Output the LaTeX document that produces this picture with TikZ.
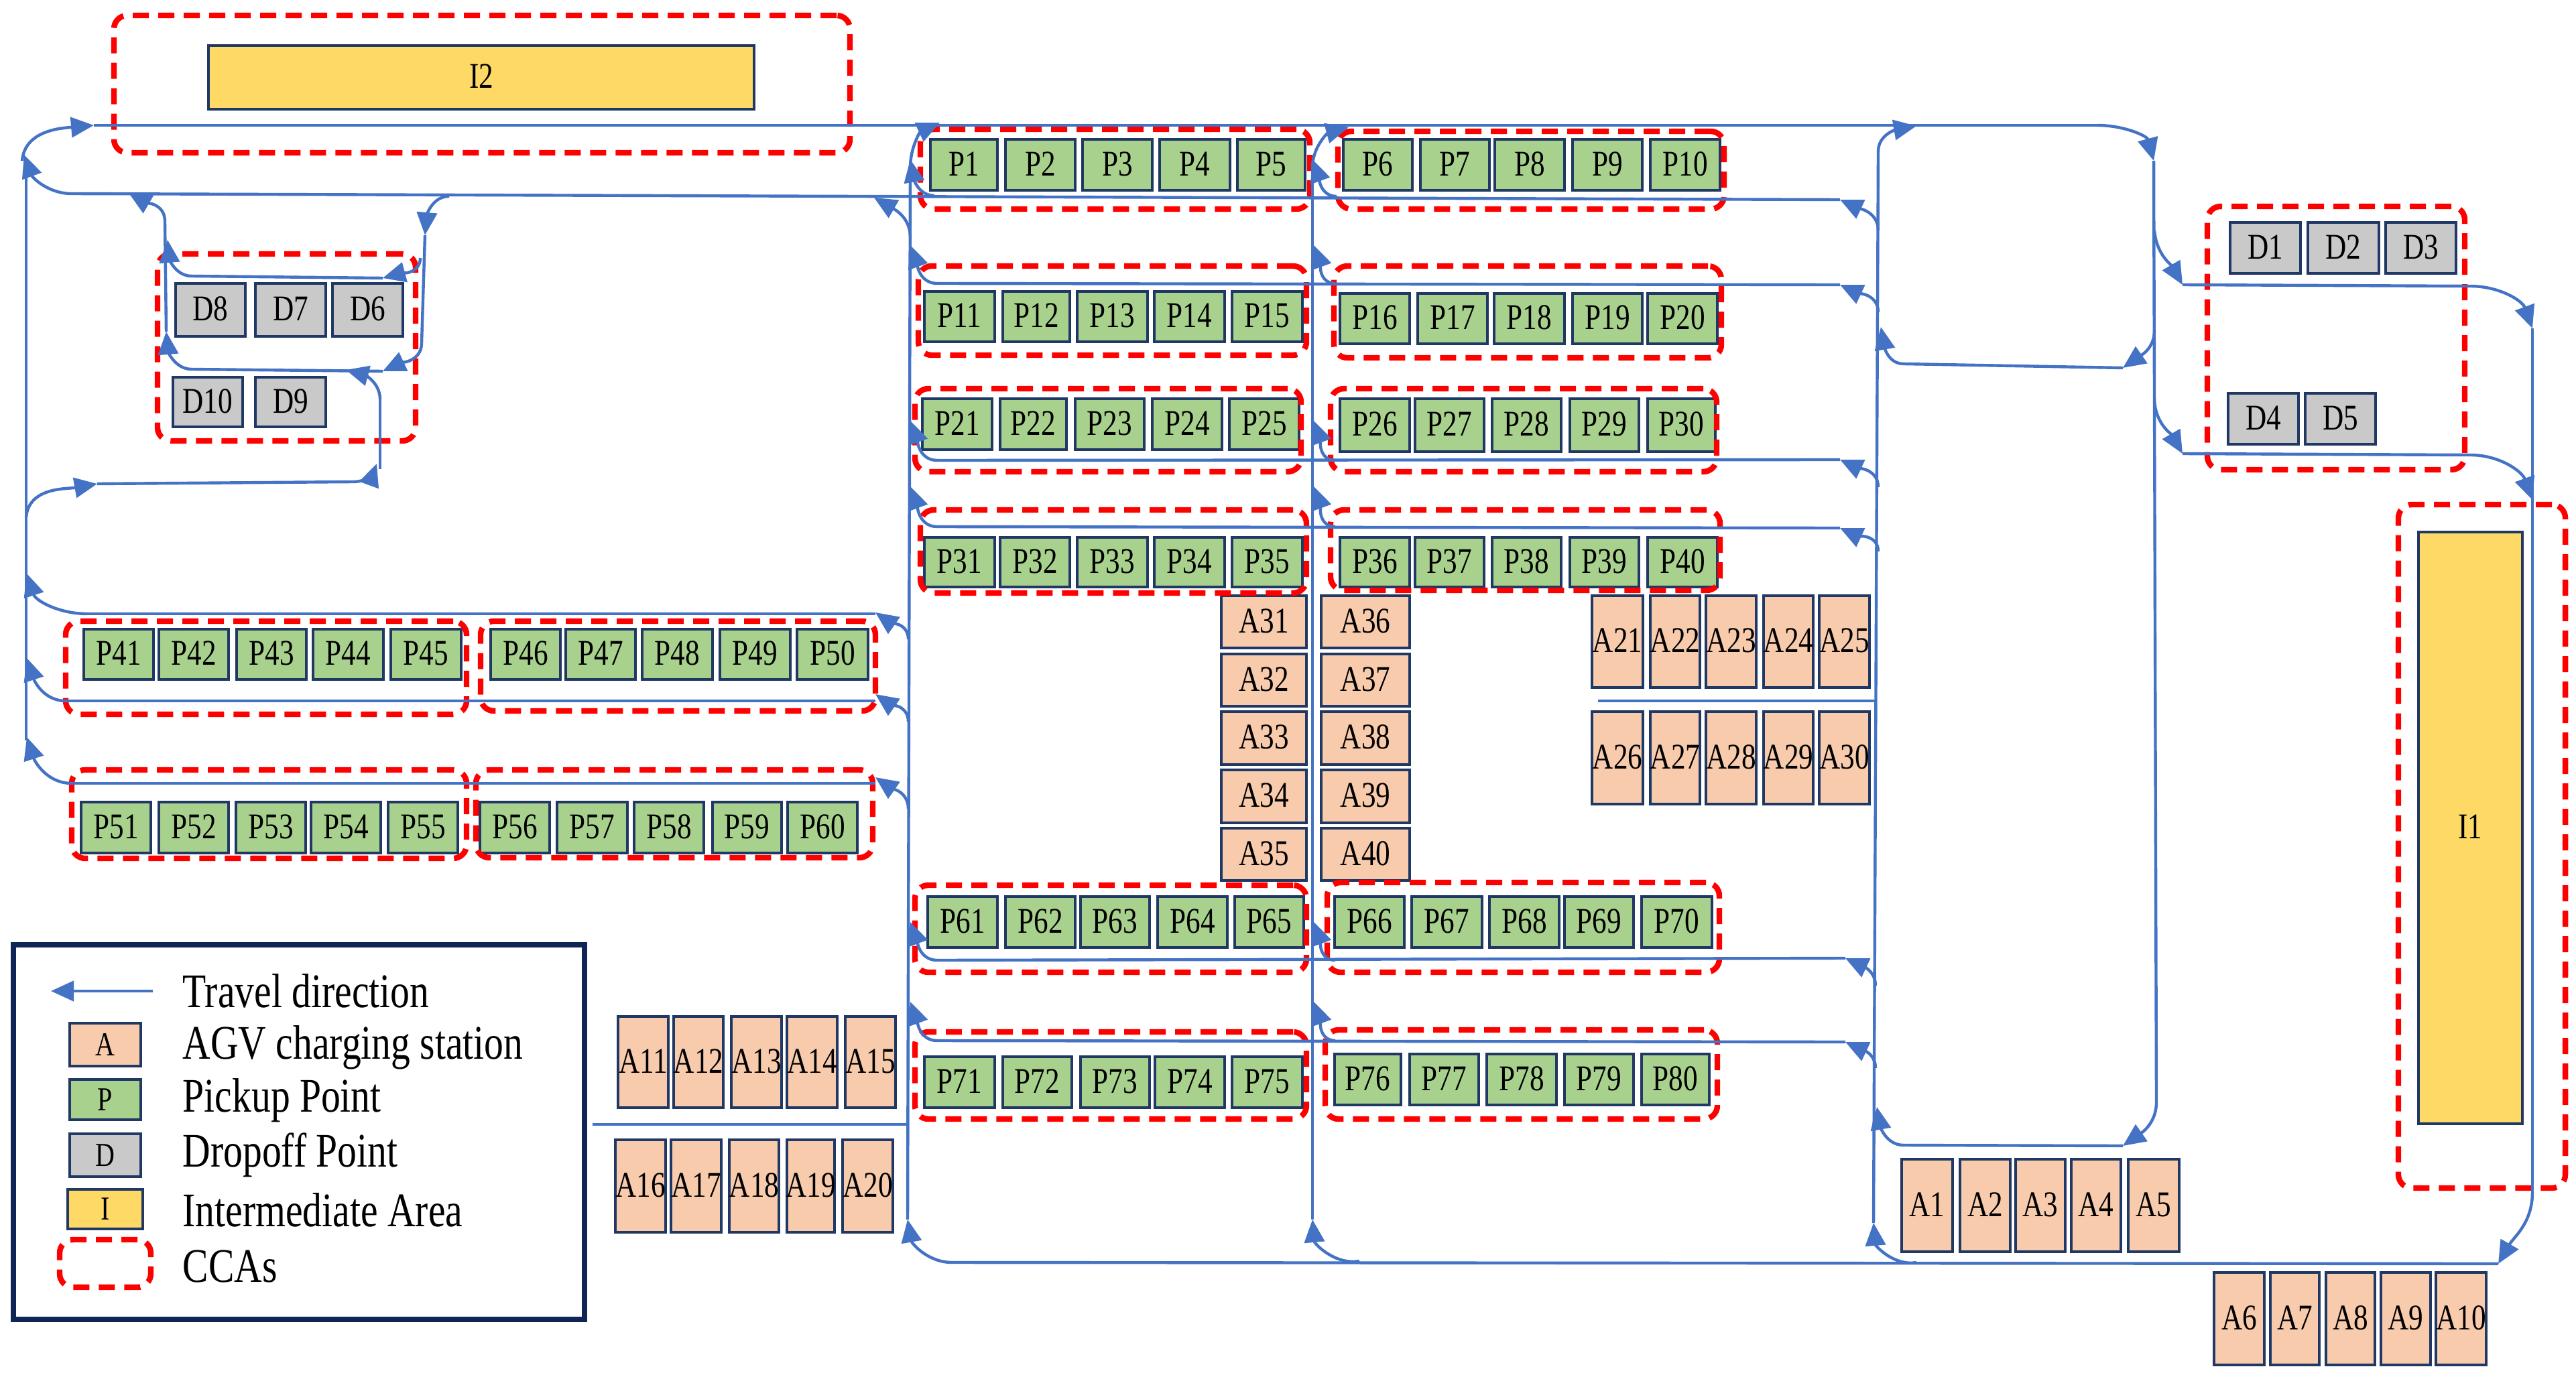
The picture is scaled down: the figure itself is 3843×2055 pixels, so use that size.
\documentclass[tikz,border=0pt]{standalone}
\usepackage{fontspec}
\setmainfont[FakeStretch=0.8]{Liberation Serif}
\usetikzlibrary{arrows.meta}
\definecolor{roadblue}{HTML}{4472C4}
\definecolor{edgeblue}{HTML}{203864}
\definecolor{framenavy}{HTML}{0F2557}
\definecolor{pgreen}{HTML}{A9D18E}
\definecolor{aorange}{HTML}{F8CBAD}
\definecolor{dgray}{HTML}{C9C9C9}
\definecolor{iyellow}{HTML}{FFD966}
\tikzset{
  cell/.style={draw=edgeblue,line width=1pt,inner sep=0pt,outer sep=0pt,font=\fontsize{13.5}{15}\selectfont,text=black},
  pbox/.style={cell,fill=pgreen},
  abox/.style={cell,fill=aorange},
  dbox/.style={cell,fill=dgray},
  ibox/.style={cell,fill=iyellow},
  cca/.style={draw=red,line width=2.1pt,dash pattern=on 6pt off 3.5pt,rounded corners=5pt,inner sep=0pt,outer sep=0pt},
  road/.style={draw=roadblue,line width=1.1pt},
  arr/.style={road,-{Triangle[length=8.5pt,width=7.5pt]}},
  lgtext/.style={anchor=west,inner sep=0pt,font=\fontsize{18}{20}\selectfont,text=black}
}
\newcommand{\boxrow}[4]{\foreach \nm/\xa/\xb in {#4}{%
  \node[#1,minimum width={(\xb-\xa)*0.25pt},minimum height={(#3-#2)*0.25pt}] (\nm) at ({(\xa+\xb)/2},{(#2+#3)/2}) {\makebox[0pt]{\raisebox{0.8pt}{\nm}}};}}
\newcommand{\ccabox}[5]{\node[cca,minimum width={(#3-#2)*0.25pt},minimum height={(#5-#4)*0.25pt}] (#1) at ({(#2+#3)/2},{(#4+#5)/2}) {};}
\newcommand{\lgbox}[7]{\node[#1,font=\fontsize{12.5}{14}\selectfont,minimum width={(#5-#4)*0.25pt},minimum height={(#7-#6)*0.25pt}] (#2) at ({(#4+#5)/2},{(#6+#7)/2}) {#3};}
\newcommand{\junc}[3]{\coordinate (#1) at (#2,#3);}
\begin{document}
\begin{tikzpicture}[x=0.25pt,y=-0.25pt]
\useasboundingbox (0,0) rectangle (3843,2055);
\fill[white] (0,0) rectangle (3843,2055);

% ---------- intermediate areas
\boxrow{ibox}{68}{163}{I2/311/1125}
\boxrow{ibox}{794}{1677}{I1/3608/3763}

% ---------- pickup points
\boxrow{pbox}{208}{284}{P1/1388/1488,P2/1500/1604,P3/1615/1719,P4/1730/1835,P5/1846/1947,P6/2004/2107,P7/2119/2222,P8/2230/2334,P9/2346/2450,P10/2462/2566}
\boxrow{pbox}{435}{510}{P11/1379/1484,P12/1496/1596,P13/1607/1712,P14/1722/1827,P15/1838/1943}
\boxrow{pbox}{438}{513}{P16/1999/2103,P17/2115/2219,P18/2229/2334,P19/2346/2450,P20/2458/2562}
\boxrow{pbox}{595}{671}{P21/1376/1480,P22/1492/1591,P23/1604/1707,P24/1719/1823,P25/1834/1938}
\boxrow{pbox}{595}{674}{P26/1999/2103,P27/2111/2214,P28/2226/2329,P29/2342/2445,P30/2458/2559}
\boxrow{pbox}{802}{876}{P31/1379/1484,P32/1492/1596,P33/1607/1712,P34/1722/1827,P35/1838/1943,P36/1999/2103,P37/2111/2214,P38/2226/2329,P39/2342/2445,P40/2458/2562}
\boxrow{pbox}{939}{1014}{P41/125/229,P42/237/341,P43/353/457,P44/467/572,P45/583/688,P46/732/836,P47/844/948,P48/958/1063,P49/1074/1179,P50/1189/1295}
\boxrow{pbox}{1197}{1273}{P51/121/225,P52/237/341,P53/352/456,P54/464/568,P55/579/683,P56/716/820,P57/831/936,P58/946/1050,P59/1063/1166,P60/1175/1279}
\boxrow{pbox}{1338}{1414}{P61/1384/1488,P62/1500/1604,P63/1612/1715,P64/1727/1831,P65/1842/1945,P66/1991/2095,P67/2106/2211,P68/2222/2326,P69/2334/2437,P70/2449/2554}
\boxrow{pbox}{1577}{1653}{P71/1379/1484,P72/1496/1599,P73/1612/1715,P74/1723/1827,P75/1838/1943}
\boxrow{pbox}{1573}{1649}{P76/1991/2090,P77/2103/2206,P78/2218/2322,P79/2334/2437,P80/2449/2550}

% ---------- dropoff points
\boxrow{dbox}{332}{408}{D1/3327/3432,D2/3443/3549,D3/3559/3664}
\boxrow{dbox}{587}{663}{D4/3324/3429,D5/3439/3544}
\boxrow{dbox}{423}{502}{D8/262/366,D7/381/486,D6/496/601}
\boxrow{dbox}{563}{637}{D10/258/362,D9/381/486}

% ---------- AGV charging stations
\boxrow{abox}{1730}{1868}{A1/2837/2913,A2/2924/2999,A3/3007/3081,A4/3090/3164,A5/3175/3251}
\boxrow{abox}{1899}{2037}{A6/3303/3378,A7/3387/3460,A8/3470/3543,A9/3552/3626,A10/3634/3709}
\boxrow{abox}{1517}{1653}{A11/922/997,A12/1005/1079,A13/1091/1166,A14/1174/1249,A15/1261/1336}
\boxrow{abox}{1701}{1839}{A16/918/993,A17/1001/1076,A18/1088/1162,A19/1174/1245,A20/1257/1332}
\boxrow{abox}{889}{1026}{A21/2375/2451,A22/2462/2536,A23/2545/2620,A24/2631/2705,A25/2714/2789}
\boxrow{abox}{1062}{1200}{A26/2375/2451,A27/2462/2536,A28/2545/2620,A29/2631/2705,A30/2714/2789}
\boxrow{abox}{889}{967}{A31/1822/1949,A36/1971/2103}
\boxrow{abox}{976}{1054}{A32/1822/1949,A37/1971/2103}
\boxrow{abox}{1062}{1141}{A33/1822/1949,A38/1971/2103}
\boxrow{abox}{1149}{1228}{A34/1822/1949,A39/1971/2103}
\boxrow{abox}{1236}{1314}{A35/1822/1949,A40/1971/2103}

% ---------- CCAs
\ccabox{ccaItwo}{170}{1268}{23}{228}
\ccabox{ccaItwoOne}{3578}{3827}{753}{1773}
\ccabox{ccaDa}{3293}{3677}{308}{701}
\ccabox{ccaDb}{235}{620}{379}{658}
\ccabox{ccaa}{1373}{1954}{193}{312}
\ccabox{ccab}{1996}{2572}{196}{312}
\ccabox{ccac}{1370}{1949}{397}{530}
\ccabox{ccad}{1990}{2568}{397}{534}
\ccabox{ccae}{1365}{1941}{580}{704}
\ccabox{ccaf}{1985}{2561}{580}{704}
\ccabox{ccag}{1373}{1949}{761}{885}
\ccabox{ccah}{1985}{2566}{761}{881}
\ccabox{ccai}{98}{696}{927}{1066}
\ccabox{ccaj}{717}{1306}{927}{1061}
\ccabox{ccak}{107}{696}{1149}{1281}
\ccabox{ccal}{710}{1302}{1149}{1280}
\ccabox{ccam}{1365}{1949}{1321}{1451}
\ccabox{ccan}{1980}{2565}{1317}{1451}
\ccabox{ccao}{1365}{1949}{1540}{1670}
\ccabox{ccap}{1977}{2562}{1537}{1670}

% ---------- row lines between the two main verticals and the right vertical
\foreach \kk/\lyy/\txx/\tyy/\sxx/\syy/\ayy in {r2/423/2745/425/2802/466/366,r3/687/2745/686/2802/727/628,r4/786/2745/788/2802/823/726,r6/1433/2753/1430/2798/1471/1376,r7/1553/2753/1555/2798/1594/1495}{
  \junc{\kk-s}{\sxx}{\syy}
  \junc{\kk-t}{\txx}{\tyy}
  \junc{\kk-a}{1398}{\lyy}
  \junc{\kk-b}{1992}{\lyy}
  \junc{\kk-A}{1358}{\ayy}
  \junc{\kk-B}{1960}{\ayy}
  \draw[arr] (\kk-s) to[out=90,in=-25] (\kk-t);
  \draw[road] (\kk-t) -- (\kk-a);
  \draw[arr] (\kk-a) to[out=180,in=-70] (\kk-A);
  \draw[arr] (\kk-b) to[out=180,in=-70] (\kk-B);
}

% ---------- main verticals
\junc{Abot}{1354}{1820}\junc{Atop}{1358}{250}
\junc{Bbot}{1958}{1820}\junc{Btop}{1958}{250}
\junc{Rbot}{2795}{1825}\junc{Rtop}{2802}{226}
\junc{Lbot}{39}{1105}\junc{Ltop}{39}{238}
\draw[road] (Abot) -- (Atop);
\draw[road] (Bbot) -- (Btop);
\draw[road] (Rbot) -- (Rtop);
\draw[road] (Lbot) -- (Ltop);

% ---------- top line and loop
\junc{tlA}{33}{240}\junc{tlB}{140}{187}\junc{trA}{3129}{187}\junc{trB}{3213}{240}
\draw[arr] (tlA) to[out=85,in=185] (tlB);
\draw[road] (tlB) -- (trA);
\draw[arr] (trA) to[out=0,in=105] (trB);
\junc{Qbot}{3217}{1645}
\draw[road] (trB) -- (Qbot);
\junc{Qa}{3167}{1710}\junc{Qb}{2840}{1709}\junc{Qc}{2800}{1652}
\draw[arr] (Qbot) to[out=-90,in=35] (Qa);
\draw[road] (Qa) -- (Qb);
\draw[arr] (Qb) to[out=180,in=-80] (Qc);
\junc{Rtip}{2859}{188}
\draw[arr] (Rtop) to[out=90,in=190] (Rtip);

% ---------- middle loop on the right
\junc{Ma}{3214}{492}\junc{Mb}{3167}{549}\junc{Mc}{2840}{543}\junc{Md}{2806}{488}
\draw[arr] (Ma) to[out=-88,in=35] (Mb);
\draw[road] (Mb) -- (Mc);
\draw[arr] (Mc) to[out=180,in=-80] (Md);

% ---------- second line (row of P1--P10)
\junc{Sa}{2802}{344}\junc{Sb}{2745}{298}\junc{Sc}{107}{289}\junc{Sd}{36}{231}
\draw[arr] (Sa) to[out=90,in=-25] (Sb);
\draw[road] (Sb) -- (Sc);
\draw[arr] (Sc) to[out=180,in=-70] (Sd);
\junc{Sf}{1394}{292}\junc{Sg}{1358}{238}\junc{Sh}{1994}{293}\junc{Si}{1958}{238}
\draw[arr] (Sf) to[out=180,in=-80] (Sg);
\draw[arr] (Sh) to[out=180,in=-70] (Si);
\junc{Sj}{1358}{354}\junc{Sk}{1304}{295}
\draw[arr] (Sj) to[out=90,in=-30] (Sk);
\junc{Atip}{1402}{183}\junc{Btip}{2012}{190}
\draw[arr] (Atop) to[out=90,in=205] (Atip);
\draw[arr] (Btop) to[out=90,in=195] (Btip);

% ---------- drop-off lines on the right
\junc{Da}{3214}{344}\junc{Db}{3256}{425}\junc{Dc}{3685}{427}\junc{Dd}{3778}{490}
\draw[arr] (Da) to[out=-85,in=120] (Db);
\draw[road] (Db) -- (Dc);
\draw[arr] (Dc) to[out=0,in=110] (Dd);
\junc{Ea}{3214}{599}\junc{Eb}{3256}{677}\junc{Ec}{3685}{679}\junc{Ed}{3778}{746}
\draw[arr] (Ea) to[out=-85,in=120] (Eb);
\draw[road] (Eb) -- (Ec);
\draw[arr] (Ec) to[out=0,in=110] (Ed);
\junc{Ve}{3778}{1779}
\draw[road] (Dd) -- (Ve);

% ---------- bottom line
\junc{Ba}{3727}{1886}\junc{Bb}{1420}{1884}
\draw[arr] (Ve) to[out=-90,in=60] (Ba);
\draw[road] (Ba) -- (Bb);
\junc{Bc}{2028}{1882}\junc{Bd}{2859}{1884}
\draw[arr] (Bb) to[out=180,in=-80] (Abot);
\draw[arr] (Bc) to[out=190,in=-85] (Bbot);
\draw[arr] (Bd) to[out=190,in=-85] (Rbot);

% ---------- left rows
\foreach \kk/\lyy/\lxx/\syy/\tyy/\ayy in {m4/916/130/954/914/856,m5/1046/98/1077/1036/982,m6/1169/107/1207/1160/1100}{
  \junc{\kk-s}{1355}{\syy}
  \junc{\kk-t}{1306}{\tyy}
  \junc{\kk-e}{\lxx}{\lyy}
  \junc{\kk-A}{40}{\ayy}
  \draw[arr] (\kk-s) to[out=90,in=-35] (\kk-t);
  \draw[road] (\kk-t |- \kk-e) -- (\kk-e);
  \draw[arr] (\kk-e) to[out=180,in=-72] (\kk-A);
}

% ---------- D6--D10 lines
\junc{Ga}{39}{772}\junc{Gb}{145}{722}\junc{Gc}{527}{719}\junc{Gd}{562}{692}\junc{Ge}{567}{700}\junc{Gf}{567}{596}\junc{Gg}{516}{552}
\draw[arr] (Ga) to[out=85,in=190] (Gb);
\draw[road] (Gb) -- (Gc);
\draw[arr] (Gc) to[out=0,in=-110] (Gd);
\draw[road] (Ge) -- (Gf);
\draw[arr] (Gf) to[out=90,in=-15] (Gg);

\junc{Ha}{670}{293}\junc{Hb}{634}{351}\junc{Hc}{629}{512}\junc{Hd}{571}{554}\junc{He}{286}{551}\junc{Hf}{248}{495}
\draw[arr] (Ha) to[out=180,in=85] (Hb);
\draw[road] (Hb) -- (Hc);
\draw[arr] (Hc) to[out=-90,in=25] (Hd);
\draw[road] (Hd) -- (He);
\draw[arr] (He) to[out=180,in=-85] (Hf);

\junc{Ja}{627}{385}\junc{Jb}{571}{415}\junc{Jc}{286}{412}\junc{Jd}{250}{358}
\draw[arr] (Ja) to[out=-90,in=15] (Jb);
\draw[road] (Jb) -- (Jc);
\draw[arr] (Jc) to[out=180,in=-85] (Jd);

\junc{Ka}{246}{330}\junc{Kb}{192}{288}
\draw[road] (Hf) -- (Ka);
\draw[arr] (Ka) to[out=90,in=-30] (Kb);

% ---------- A11--A30 aisles
\junc{Xa}{884}{1678}\junc{Xb}{1353}{1678}
\draw[road] (Xa) -- (Xb);
\junc{Ya}{2384}{1046}\junc{Yb}{2798}{1046}
\draw[road] (Ya) -- (Yb);

% ---------- legend
\node[draw=framenavy,line width=1.8pt,minimum width=213pt,minimum height=139.75pt,inner sep=0pt,outer sep=0pt] (legend) at (446,1689.5) {};
\junc{Laa}{228}{1479}\junc{Lab}{76}{1479}
\draw[arr] (Laa) -- (Lab);
\lgbox{abox}{lgA}{A}{104}{210}{1527}{1591}
\lgbox{pbox}{lgP}{P}{104}{210}{1611}{1671}
\lgbox{dbox}{lgD}{D}{104}{210}{1692}{1756}
\lgbox{ibox}{lgI}{I}{101}{213}{1775}{1834}
\ccabox{lgC}{89}{225}{1850}{1921}
\node[lgtext] (tTravel) at (272,1479) {Travel direction};
\node[lgtext] (tAGV) at (272,1563) {AGV charging station};
\node[lgtext] (tPick) at (272,1642) {Pickup Point};
\node[lgtext] (tDrop) at (272,1724) {Dropoff Point};
\node[lgtext] (tInter) at (272,1806) {Intermediate Area};
\node[lgtext] (tCCA) at (272,1890) {CCAs};
\end{tikzpicture}
\end{document}
